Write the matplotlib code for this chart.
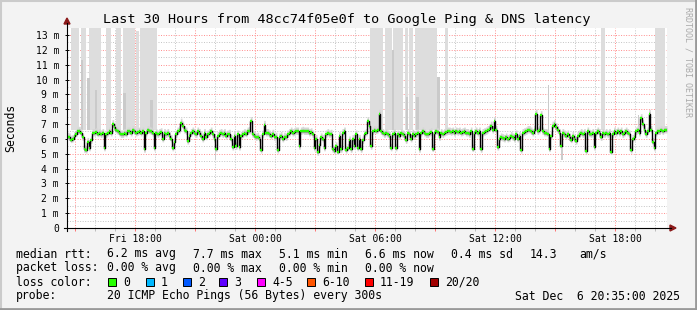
import numpy as np
import pandas as pd
import matplotlib
matplotlib.use("Agg")
import matplotlib.pyplot as plt
import matplotlib.dates as mdates
import matplotlib.ticker as mticker
from matplotlib.lines import Line2D
from matplotlib.patches import Polygon, Rectangle

# ---- data ----
start = pd.Timestamp("2025-12-05 14:35")
end = pd.Timestamp("2025-12-06 20:35")
step_min = 5

# median rtt in ms, one value per 5 min step (12 per hour, 30 hours)
median_ms = [
    6.15, 6.1, 5.95, 6.0, 6.2, 6.35, 6.5, 6.55, 6.4, 6.1, 5.3, 5.25,
    5.8, 5.4, 5.9, 6.4, 6.4, 6.45, 6.35, 6.4, 6.3, 6.4, 5.4, 6.3,
    6.4, 6.5, 6.4, 7.0, 6.8, 6.6, 6.5, 6.4, 6.3, 6.3, 6.4, 6.35,
    6.5, 6.5, 6.4, 6.6, 6.5, 6.4, 6.45, 6.5, 6.4, 6.5, 5.3, 6.4,
    6.6, 6.55, 6.5, 6.4, 5.4, 6.4, 6.3, 6.4, 6.45, 6.0, 6.4, 6.3,
    6.4, 6.2, 6.0, 5.4, 5.8, 6.3, 6.5, 6.6, 7.1, 6.9, 6.6, 6.5,
    5.85, 6.2, 6.4, 6.5, 6.4, 6.3, 6.5, 6.4, 6.2, 6.0, 6.4, 6.15,
    6.3, 6.4, 6.5, 6.3, 6.0, 5.35, 6.2, 6.35, 6.4, 6.3, 6.4, 6.2,
    6.3, 6.35, 6.0, 5.45, 6.2, 5.5, 6.3, 5.45, 6.2, 6.3, 6.4, 6.35,
    6.5, 6.55, 7.2, 6.3, 6.2, 6.1, 6.15, 6.0, 5.25, 6.3, 6.95, 6.4,
    6.4, 6.3, 6.2, 6.35, 6.1, 6.15, 5.25, 6.1, 6.2, 6.0, 6.15, 6.1,
    6.3, 6.4, 6.5, 6.4, 6.45, 6.5, 6.5, 5.5, 6.5, 6.55, 6.5, 6.5,
    6.5, 6.4, 6.45, 6.3, 5.4, 6.0, 5.1, 5.6, 6.1, 6.0, 5.4, 6.3,
    6.4, 6.3, 6.35, 5.3, 5.2, 5.5, 5.15, 6.2, 5.3, 6.4, 6.5, 5.25,
    5.4, 5.9, 5.3, 6.0, 5.5, 6.3, 5.4, 6.0, 5.3, 5.9, 6.3, 6.4,
    7.2, 6.9, 5.5, 6.5, 6.6, 6.55, 6.6, 7.7, 6.5, 6.4, 6.3, 6.4,
    6.3, 6.2, 5.4, 6.3, 6.4, 5.4, 6.3, 6.2, 6.4, 6.3, 6.2, 5.9,
    6.4, 6.3, 6.0, 6.35, 6.2, 6.3, 6.4, 5.3, 6.4, 6.5, 6.4, 6.3,
    6.3, 6.4, 6.45, 5.35, 6.4, 6.5, 6.45, 6.1, 6.4, 6.3, 6.4, 6.45,
    6.5, 6.5, 6.45, 6.5, 6.4, 6.5, 6.45, 6.5, 6.4, 6.45, 6.5, 6.4,
    6.4, 6.3, 6.5, 5.35, 6.4, 6.5, 6.4, 6.5, 5.3, 6.4, 6.45, 6.5,
    6.6, 6.7, 6.9, 6.6, 7.2, 6.6, 5.45, 6.0, 6.1, 6.05, 6.0, 6.1,
    6.0, 6.05, 6.2, 6.1, 6.0, 6.3, 6.0, 6.2, 5.25, 6.4, 6.45, 6.5,
    6.6, 6.6, 6.5, 6.4, 6.6, 7.7, 6.5, 6.6, 7.6, 6.5, 6.4, 6.4,
    6.35, 5.35, 6.2, 6.9, 7.0, 6.8, 6.6, 6.4, 5.5, 6.4, 6.3, 6.2,
    6.3, 6.1, 5.95, 6.2, 6.0, 5.85, 6.2, 6.3, 6.4, 6.3, 6.4, 5.2,
    6.5, 6.35, 6.3, 6.4, 5.45, 6.4, 6.5, 6.4, 6.1, 6.4, 6.3, 6.4,
    6.3, 6.4, 5.15, 6.3, 6.5, 6.4, 6.5, 6.4, 6.5, 6.3, 6.4, 6.5,
    6.4, 6.3, 5.25, 6.0, 6.1, 6.5, 6.6, 6.4, 7.4, 7.0, 6.6, 6.3,
    6.5, 7.7, 6.6, 5.8, 5.4, 6.4, 6.5, 6.5, 6.6, 6.5, 6.6, 6.6,
]

# smoke columns where the slowest pings went off the top (hours from start)
tall_start_h = [0.2, 0.7, 1.1, 1.95, 2.45, 2.8, 3.45, 3.65, 15.15, 15.9, 16.3,
                16.9, 17.1, 17.4, 18.9, 26.7, 29.4]
tall_end_h = [0.6, 0.95, 1.7, 2.2, 2.7, 3.4, 3.6, 4.5, 15.8, 16.25, 16.8,
              17.05, 17.3, 18.5, 19.05, 26.9, 29.9]
tall_top_ms = [13.5, 13.5, 13.5, 13.5, 13.5, 13.5, 13.3, 13.5, 13.5, 13.5, 13.5,
               13.5, 13.5, 13.5, 13.5, 13.5, 13.5]

# denser smoke inside / next to the columns
mid_start_h = [0.7, 1.0, 1.4, 2.8, 4.15, 16.25, 16.95, 17.45, 18.5, 24.05, 28.55]
mid_end_h = [0.8, 1.15, 1.5, 2.95, 4.3, 16.35, 17.05, 17.6, 18.65, 24.12, 28.62]
mid_top_ms = [11.3, 10.1, 9.3, 9.1, 8.6, 12.0, 8.8, 8.8, 10.2, 9.6, 7.6]

# smoke reaching below the median
low_start_h = [7.4, 24.05, 24.7]
low_end_h = [7.47, 24.12, 24.8]
low_bottom_ms = [4.55, 5.4, 4.55]

loss_labels = ["0", "1", "2", "3", "4-5", "6-10", "11-19", "20/20"]
loss_colors = ["#26ff00", "#00b8ff", "#0059ff", "#5e00ff", "#ff00ff",
               "#ff5500", "#ff0000", "#a10000"]

# ---- figure ----
W, H = 697, 310
mono = "DejaVu Sans Mono"

def fx(x):
    return x / W

def fy(y):
    return 1 - y / H

fig = plt.figure(figsize=(W / 100, H / 100), dpi=100)
fig.patch.set_facecolor("#f3f3f3")
ax = fig.add_axes([fx(67), fy(228), 600 / W, 200 / H])
ax.set_facecolor("white")

times = pd.date_range(start, periods=len(median_ms), freq=f"{step_min}min")
tnum = mdates.date2num(times)
dt = step_min / 1440.0
med = np.array(median_ms)
t0 = mdates.date2num(start)

def hnum(h):
    return t0 + np.array(h) / 24.0

# tall smoke
ts, te = hnum(tall_start_h), hnum(tall_end_h)
ax.bar(ts, np.array(tall_top_ms) - 6.6, width=te - ts, bottom=6.6, align="edge",
       color="#dddddd", linewidth=0, zorder=1)
ms_, me_ = hnum(mid_start_h), hnum(mid_end_h)
ax.bar(ms_, np.array(mid_top_ms) - 6.6, width=me_ - ms_, bottom=6.6, align="edge",
       color="#cacaca", linewidth=0, zorder=1.1)
ls_, le_ = hnum(low_start_h), hnum(low_end_h)
ax.bar(ls_, 6.2 - np.array(low_bottom_ms), width=le_ - ls_, bottom=low_bottom_ms,
       align="edge", color="#cccccc", linewidth=0, zorder=1.1)

# smoke band around the median
tt = np.append(tnum, tnum[-1] + dt)
medx = np.append(med, med[-1])
ax.fill_between(tt, medx - 0.2, medx + 0.3, step="post", color="#d6d6d6", linewidth=0, zorder=2)
ax.fill_between(tt, medx - 0.1, medx + 0.15, step="post", color="#c4c4c4", linewidth=0, zorder=2.1)

# median line: black steps with green (0 loss) caps
ax.step(tt, medx, where="post", color="black", lw=1.0, zorder=3)
ax.hlines(med, tnum, tnum + dt, color=loss_colors[0], lw=1.7, zorder=4)

ax.set_xlim(t0, mdates.date2num(end))
ax.set_ylim(0, 13.47)

# grid
ax.xaxis.set_major_locator(mdates.HourLocator(byhour=range(0, 24, 3)))
ax.xaxis.set_minor_locator(mdates.HourLocator())
ax.xaxis.set_major_formatter(mticker.FuncFormatter(
    lambda v, p: mdates.num2date(v).strftime("%a %H:%M") if mdates.num2date(v).hour % 6 == 0 else ""))
ax.yaxis.set_major_locator(mticker.MultipleLocator(1))
ax.yaxis.set_minor_locator(mticker.MultipleLocator(0.5))
ax.yaxis.set_major_formatter(mticker.FuncFormatter(lambda v, p: "0" if v == 0 else f"{int(v)} m"))

ax.grid(which="minor", color="#c4c4c4", lw=0.7, linestyle=(0, (1, 1.6)), zorder=0.5)
ax.grid(which="major", color="#ff8c8c", lw=0.7, linestyle=(0, (1, 1.6)), zorder=0.6)
ax.set_axisbelow(True)

for s in ax.spines.values():
    s.set_visible(False)

ax.tick_params(axis="x", which="major", length=2.5, width=0.7, color="#ff7070",
               direction="out", pad=1.5, labelsize=7)
ax.tick_params(axis="x", which="minor", length=2, width=0.7, color="#bbbbbb", direction="out")
ax.tick_params(axis="y", which="major", length=2.5, width=0.7, color="black",
               direction="inout", pad=4.5, labelsize=7)
ax.tick_params(axis="y", which="minor", length=0)
for lab in ax.get_xticklabels() + ax.get_yticklabels():
    lab.set_family(mono)

# axis lines with arrows
fig.add_artist(Line2D([fx(64), fx(671)], [fy(228), fy(228)], color="black", lw=0.8))
fig.add_artist(Line2D([fx(67), fx(67)], [fy(231), fy(23)], color="black", lw=0.8))
fig.add_artist(Polygon([[fx(67), fy(18)], [fx(64), fy(24)], [fx(70), fy(24)]],
                       closed=True, color="#8b1a1a"))
fig.add_artist(Polygon([[fx(676), fy(228)], [fx(670), fy(225)], [fx(670), fy(231)]],
                       closed=True, color="#8b1a1a"))

# texts
fig.text(fx(347), fy(19), "Last 30 Hours from 48cc74f05e0f to Google Ping & DNS latency",
         ha="center", va="center", fontsize=9.7, family=mono)
fig.text(fx(11), fy(128), "Seconds", rotation=90, ha="center", va="center",
         fontsize=8.3, family=mono)
fig.text(fx(688), fy(62), "RRDTOOL / TOBI OETIKER", rotation=270, ha="center", va="center",
         fontsize=6.0, family=mono, color="#aaaaaa")

def put(x, y, s, **kw):
    fig.text(fx(x), fy(y), s, ha="left", va="center", fontsize=8.3, family=mono, **kw)

put(16, 254, "median rtt:")
for x, s in zip([107, 193, 279, 365, 451, 530, 579],
                ["6.2 ms avg", "7.7 ms max", "5.1 ms min", "6.6 ms now", "0.4 ms sd", "14.3", "am/s"]):
    put(x, 254, s)
put(16, 268, "packet loss:")
for x, s in zip([107, 193, 279, 365], ["0.00 % avg", "0.00 % max", "0.00 % min", "0.00 % now"]):
    put(x, 268, s)
put(16, 282, "loss color:")
box_x = [108, 146, 183, 219, 257, 307, 365, 430]
for bx, lab, col in zip(box_x, loss_labels, loss_colors):
    fig.add_artist(Rectangle((fx(bx), fy(286)), 8 / W, 8 / H, facecolor=col,
                             edgecolor="black", lw=0.7))
    put(bx + 15, 282, lab)
put(16, 296, "probe:")
put(107, 296, "20 ICMP Echo Pings (56 Bytes) every 300s")
fig.text(fx(680), fy(296), "Sat Dec  6 20:35:00 2025", ha="right", va="center",
         fontsize=8.3, family=mono)

# 3d frame
fig.add_artist(Line2D([0, 1], [fy(0.5), fy(0.5)], color="#cbcbcb", lw=1.5))
fig.add_artist(Line2D([fx(0.5), fx(0.5)], [0, 1], color="#cbcbcb", lw=1.5))
fig.add_artist(Line2D([0, 1], [fy(309), fy(309)], color="#999999", lw=2))
fig.add_artist(Line2D([fx(696), fx(696)], [0, 1], color="#999999", lw=2))

fig.savefig("out.png", dpi=100, facecolor=fig.get_facecolor())
